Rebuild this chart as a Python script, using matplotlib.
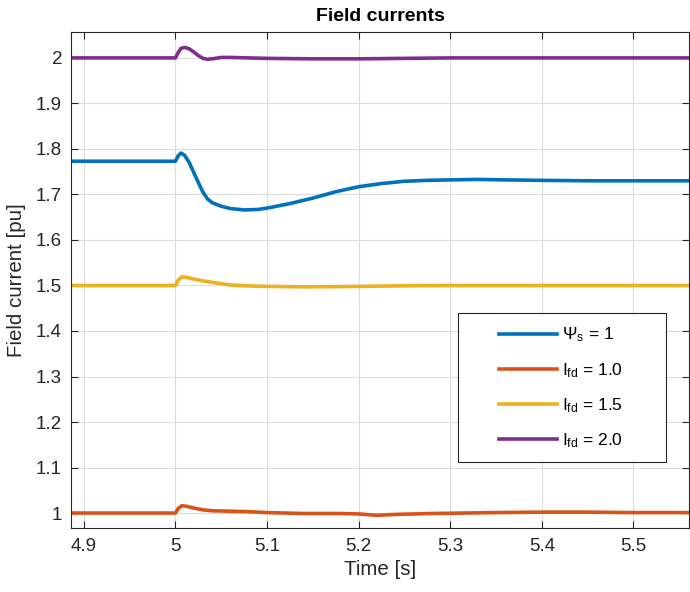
import matplotlib
matplotlib.use("Agg")
import matplotlib.pyplot as plt
from matplotlib.patches import Rectangle

plt.rcParams['font.family'] = ['Liberation Sans', 'DejaVu Sans']
plt.rcParams['mathtext.fontset'] = 'custom'
plt.rcParams['mathtext.rm'] = 'Liberation Sans'
plt.rcParams['mathtext.it'] = 'Liberation Sans'

# Psi_s = 1 (blue)
t_psi = [4.886, 5.0, 5.003, 5.006, 5.010, 5.015, 5.02, 5.025, 5.03, 5.035, 5.04, 5.05,
         5.06, 5.075, 5.09, 5.1, 5.125, 5.15, 5.175, 5.2, 5.225, 5.25, 5.275, 5.3,
         5.33, 5.36, 5.4, 5.45, 5.5, 5.561]
v_psi = [1.773, 1.773, 1.785, 1.791, 1.786, 1.770, 1.748, 1.726, 1.705, 1.690, 1.682, 1.674,
         1.669, 1.666, 1.667, 1.670, 1.680, 1.692, 1.706, 1.717, 1.724, 1.729, 1.731, 1.732,
         1.733, 1.732, 1.731, 1.730, 1.730, 1.730]

# I_fd = 1.0 (orange)
t_i10 = [4.886, 5.0, 5.003, 5.007, 5.012, 5.02, 5.03, 5.04, 5.06, 5.08, 5.1, 5.14, 5.18,
         5.2, 5.22, 5.24, 5.28, 5.35, 5.4, 5.45, 5.5, 5.561]
v_i10 = [1.0, 1.0, 1.010, 1.016, 1.015, 1.011, 1.007, 1.005, 1.004, 1.003, 1.001, 0.999, 0.999,
         0.998, 0.995, 0.997, 0.999, 1.001, 1.002, 1.002, 1.001, 1.001]

# I_fd = 1.5 (yellow)
t_i15 = [4.886, 5.0, 5.003, 5.007, 5.012, 5.02, 5.03, 5.04, 5.05, 5.06, 5.08, 5.1, 5.14,
         5.18, 5.22, 5.26, 5.3, 5.4, 5.561]
v_i15 = [1.5, 1.5, 1.512, 1.519, 1.518, 1.514, 1.510, 1.507, 1.504, 1.501, 1.499, 1.498, 1.497,
         1.4975, 1.4985, 1.4995, 1.5, 1.5, 1.5]

# I_fd = 2.0 (purple)
t_i20 = [4.886, 5.0, 5.003, 5.006, 5.01, 5.015, 5.02, 5.025, 5.03, 5.035, 5.04, 5.05, 5.06,
         5.08, 5.1, 5.15, 5.2, 5.25, 5.3, 5.4, 5.561]
v_i20 = [2.0, 2.0, 2.012, 2.021, 2.023, 2.020, 2.013, 2.005, 1.999, 1.997, 1.998, 2.001, 2.001,
         2.0, 1.999, 1.998, 1.998, 1.999, 2.0, 2.0, 2.0]

labels = [r'$\Psi_{\rm s}$ = 1', r'I$_{\rm fd}$ = 1.0', r'I$_{\rm fd}$ = 1.5', r'I$_{\rm fd}$ = 2.0']
colors = ['#0072BD', '#D95319', '#EDB120', '#7E2F8E']
xticks = [4.9, 5.0, 5.1, 5.2, 5.3, 5.4, 5.5]
xticklabels = ['4.9', '5', '5.1', '5.2', '5.3', '5.4', '5.5']
yticks = [1, 1.1, 1.2, 1.3, 1.4, 1.5, 1.6, 1.7, 1.8, 1.9, 2]
yticklabels = ['1', '1.1', '1.2', '1.3', '1.4', '1.5', '1.6', '1.7', '1.8', '1.9', '2']

fig = plt.figure(figsize=(6.9, 5.92), dpi=100)
ax = fig.add_axes([0.103, 0.108, 0.896, 0.838])

series = [(t_psi, v_psi), (t_i10, v_i10), (t_i15, v_i15), (t_i20, v_i20)]
for (t, v), lab, c in zip(series, labels, colors):
    ax.plot(t, v, color=c, lw=2.6, label=lab, solid_joinstyle='round')

ax.set_xlim(4.886, 5.561)
ax.set_ylim(0.967, 2.057)
ax.set_xticks(xticks)
ax.set_xticklabels(xticklabels)
ax.set_yticks(yticks)
ax.set_yticklabels(yticklabels)
ax.grid(True, color='#dcdcdc', lw=0.8)
ax.set_axisbelow(True)
ax.tick_params(direction='in', length=5, width=0.8, colors='#262626',
               labelsize=13.5, top=True, right=True)
ax.tick_params(axis='x', pad=7)
ax.tick_params(axis='y', pad=6.5)
for s in ax.spines.values():
    s.set_color('#262626')
    s.set_linewidth(0.8)

ax.set_xlabel('Time [s]', fontsize=14.8, color='#262626', labelpad=4)
ax.set_ylabel('Field current [pu]', fontsize=14.8, color='#262626', labelpad=7)
ax.set_title('Field currents', fontsize=14, fontweight='bold', pad=8)

# legend box (MATLAB style, content centred in a wider frame)
ax.add_patch(Rectangle((0.626, 0.133), 0.337, 0.300, transform=ax.transAxes,
                       facecolor='white', edgecolor='#262626', lw=0.8, zorder=4))
leg = ax.legend(loc='center left', bbox_to_anchor=(0.6926, 0.2827), frameon=False,
                fontsize=12.5, handlelength=3.33, labelspacing=0.95, borderpad=0,
                borderaxespad=0, handletextpad=0.3)
leg.set_zorder(5)

fig.savefig('out.png', dpi=100)
